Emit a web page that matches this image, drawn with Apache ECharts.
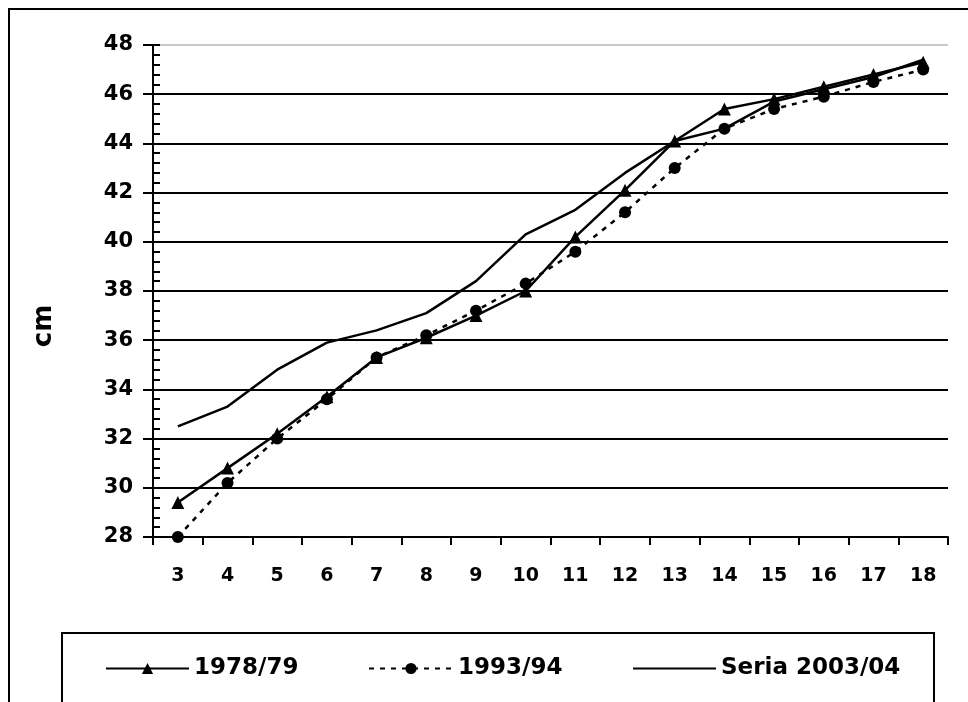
<!DOCTYPE html>
<html>
<head>
<meta charset="utf-8">
<script src="https://cdn.jsdelivr.net/npm/echarts@6/dist/echarts.min.js"></script>
<style>
  html, body { margin: 0; padding: 0; background: #fff; }
  #chart { width: 968px; height: 702px; }
</style>
</head>
<body>
<div id="chart"></div>
<script>
// wiek (lata) na osi x
var ages = ["3", "4", "5", "6", "7", "8", "9", "10", "11", "12", "13", "14", "15", "16", "17", "18"];
// cm
var s1978 = [29.4, 30.8, 32.2, 33.7, 35.3, 36.1, 37.0, 38.0, 40.2, 42.1, 44.1, 45.4, 45.8, 46.3, 46.8, 47.3];
var s1993 = [28.0, 30.2, 32.0, 33.6, 35.3, 36.2, 37.2, 38.3, 39.6, 41.2, 43.0, 44.6, 45.4, 45.9, 46.5, 47.0];
var s2003 = [32.5, 33.3, 34.8, 35.9, 36.4, 37.1, 38.4, 40.3, 41.3, 42.8, 44.1, 44.6, 45.7, 46.2, 46.7, 47.4];
var legendNames = ["1978/79", "1993/94", "Seria 2003/04"];

var font = "DejaVu Sans, sans-serif";

// kolory linii siatki: ostatnia (48) jasnoszara
var gridColors = [];
for (var i = 0; i < 10; i++) gridColors.push("#000");
gridColors.push("#c8c8c8");

var legendText = { fontFamily: font, fontWeight: "bold", fontSize: 23, color: "#000" };

var chart = echarts.init(document.getElementById("chart"));

chart.setOption({
  animation: false,
  backgroundColor: "#fff",
  grid: { left: 153, right: 20, top: 45, bottom: 165 },
  graphic: [
    {
      type: "rect",
      shape: { x: 9, y: 9, width: 1000, height: 1000 },
      style: { fill: "none", stroke: "#000", lineWidth: 2 },
      z: 0
    },
    {
      type: "rect",
      shape: { x: 62, y: 633, width: 872, height: 200 },
      style: { fill: "none", stroke: "#000", lineWidth: 2 },
      z: 0
    },
    {
      type: "text",
      x: 44,
      y: 326,
      rotation: Math.PI / 2,
      style: {
        text: "cm",
        fontFamily: font,
        fontWeight: "bold",
        fontSize: 26,
        fill: "#000",
        align: "center",
        verticalAlign: "middle"
      }
    }
  ],
  legend: [
    { data: [legendNames[0]], left: 100, top: 652, itemWidth: 83, itemHeight: 14, textStyle: legendText },
    { data: [legendNames[1]], left: 363, top: 652, itemWidth: 84, itemHeight: 14, textStyle: legendText },
    { data: [legendNames[2]], left: 627, top: 652, itemWidth: 83, itemHeight: 14, textStyle: legendText,
      itemStyle: { opacity: 0 } }
  ],
  xAxis: {
    type: "category",
    data: ages,
    boundaryGap: true,
    axisLine: { lineStyle: { color: "#000", width: 2 } },
    axisTick: { show: true, length: 8, lineStyle: { color: "#000", width: 2 } },
    axisLabel: { margin: 30, fontFamily: font, fontWeight: "bold", fontSize: 19, color: "#000" },
    splitLine: { show: false }
  },
  yAxis: [
    {
      type: "value",
      min: 28,
      max: 48,
      interval: 2,
      axisLine: { show: true, lineStyle: { color: "#000", width: 2 } },
      axisTick: { show: true, length: 10, lineStyle: { color: "#000", width: 2 } },
      axisLabel: { margin: 20, fontFamily: font, fontWeight: "bold", fontSize: 21, color: "#000" },
      splitLine: { show: true, lineStyle: { color: gridColors, width: 2 } }
    },
    {
      // drobne kreski wewnątrz osi
      type: "value",
      position: "left",
      min: 28,
      max: 48,
      interval: 0.4,
      axisLine: { show: false },
      axisTick: { show: true, inside: true, length: 7, lineStyle: { color: "#000", width: 2 } },
      axisLabel: { show: false },
      splitLine: { show: false }
    }
  ],
  series: [
    {
      name: legendNames[0],
      type: "line",
      data: s1978,
      symbol: "triangle",
      symbolSize: 13,
      itemStyle: { color: "#000" },
      lineStyle: { color: "#000", width: 2.5 },
      z: 4
    },
    {
      name: legendNames[1],
      type: "line",
      data: s1993,
      symbol: "circle",
      symbolSize: 12,
      itemStyle: { color: "#000" },
      lineStyle: { color: "#000", width: 2.5, type: [5, 6] },
      z: 5
    },
    {
      name: legendNames[2],
      type: "line",
      data: s2003,
      symbol: "none",
      itemStyle: { color: "#000" },
      lineStyle: { color: "#000", width: 2.5 },
      z: 3
    }
  ]
});
</script>
</body>
</html>
